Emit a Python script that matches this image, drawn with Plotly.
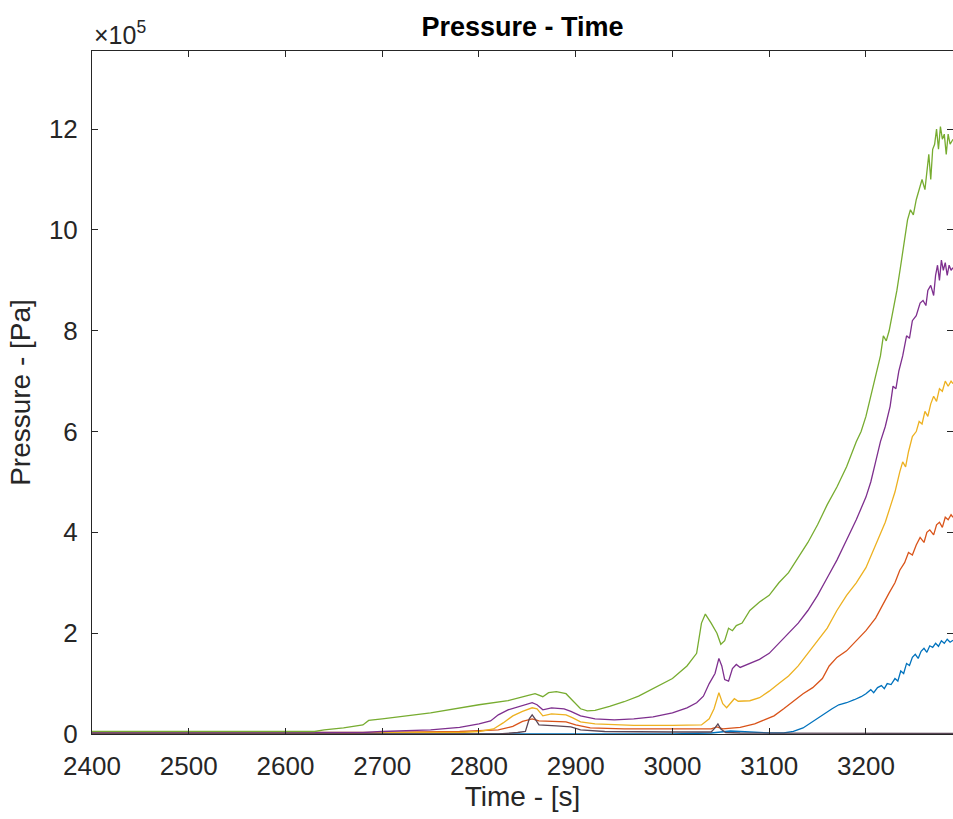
import plotly.graph_objects as go

# ---- data (pressure in units of 1e5 Pa) ----
blue_t = [2400, 2700, 3000, 3040, 3060, 3080, 3100, 3115, 3125, 3135, 3145, 3155, 3165, 3172, 3180, 3188, 3195,
          3200, 3205, 3208, 3212, 3216, 3219, 3222, 3226, 3230, 3233, 3236, 3239, 3242, 3245, 3248, 3251, 3254,
          3257, 3260, 3263, 3266, 3269, 3272, 3275, 3278, 3281, 3284, 3287, 3290]
blue_p = [0.0, 0.0, 0.0, 0.02, 0.06, 0.04, 0.02, 0.02, 0.05, 0.12, 0.25, 0.38, 0.5, 0.58, 0.62, 0.68, 0.74,
          0.8, 0.88, 0.82, 0.92, 0.96, 0.9, 1.0, 0.98, 1.1, 1.05, 1.25, 1.2, 1.4, 1.36, 1.52, 1.58, 1.5,
          1.64, 1.7, 1.62, 1.75, 1.72, 1.8, 1.74, 1.85, 1.8, 1.88, 1.82, 1.86]

orange_t = [2400, 2650, 2700, 2780, 2820, 2835, 2845, 2855, 2862, 2890, 2900, 2915, 2950, 3000, 3040, 3046, 3052,
            3070, 3085, 3095, 3105, 3115, 3125, 3135, 3145, 3155, 3162, 3170, 3180, 3190, 3200, 3210, 3218, 3224,
            3230, 3235, 3240, 3244, 3248, 3252, 3256, 3260, 3263, 3266, 3270, 3273, 3276, 3279, 3282, 3285, 3288, 3290]
orange_p = [0.0, 0.0, 0.03, 0.05, 0.08, 0.15, 0.25, 0.3, 0.26, 0.24, 0.18, 0.12, 0.1, 0.1, 0.1, 0.14, 0.1,
            0.13, 0.2, 0.28, 0.36, 0.5, 0.65, 0.8, 0.92, 1.1, 1.35, 1.52, 1.65, 1.85, 2.05, 2.3, 2.6, 2.8,
            3.0, 3.25, 3.4, 3.6, 3.55, 3.75, 3.9, 3.8, 4.0, 4.05, 3.95, 4.15, 4.2, 4.1, 4.3, 4.25, 4.35, 4.3]

yellow_t = [2400, 2780, 2800, 2815, 2825, 2835, 2845, 2855, 2860, 2866, 2875, 2890, 2897, 2905, 2920, 2960, 3000,
            3030, 3038, 3043, 3048, 3052, 3056, 3060, 3064, 3068, 3080, 3090, 3100, 3110, 3120, 3130, 3140, 3150,
            3160, 3170, 3180, 3190, 3200, 3210, 3220, 3225, 3230, 3235, 3238, 3241, 3244, 3248, 3252, 3255, 3258,
            3261, 3264, 3267, 3270, 3273, 3276, 3279, 3282, 3285, 3288, 3290]
yellow_p = [0.03, 0.03, 0.05, 0.1, 0.22, 0.36, 0.45, 0.52, 0.5, 0.36, 0.4, 0.38, 0.32, 0.24, 0.2, 0.17, 0.17,
            0.18, 0.3, 0.5, 0.82, 0.6, 0.52, 0.62, 0.7, 0.65, 0.66, 0.72, 0.85, 1.0, 1.15, 1.35, 1.6, 1.85,
            2.1, 2.45, 2.75, 3.0, 3.3, 3.75, 4.2, 4.5, 4.8, 5.2, 5.4, 5.3, 5.6, 5.9, 6.0, 6.2, 6.15,
            6.4, 6.3, 6.55, 6.7, 6.6, 6.85, 6.8, 7.0, 6.9, 7.0, 6.95]

purple_t = [2400, 2680, 2700, 2750, 2780, 2800, 2812, 2820, 2830, 2845, 2855, 2860, 2866, 2875, 2888, 2895, 2905,
            2920, 2940, 2960, 2980, 3000, 3015, 3025, 3032, 3038, 3044, 3048, 3051, 3054, 3058, 3062, 3066, 3070,
            3080, 3090, 3100, 3110, 3120, 3130, 3140, 3150, 3160, 3170, 3180, 3190, 3200, 3205, 3210, 3215, 3220,
            3225, 3228, 3231, 3234, 3238, 3242, 3245, 3248, 3252, 3256, 3259, 3262, 3264, 3267, 3270, 3272, 3274,
            3276, 3278, 3280, 3282, 3284, 3286, 3288, 3290]
purple_p = [0.03, 0.03, 0.05, 0.08, 0.13, 0.2, 0.26, 0.38, 0.48, 0.56, 0.62, 0.58, 0.48, 0.52, 0.5, 0.45, 0.36,
            0.3, 0.28, 0.3, 0.34, 0.42, 0.52, 0.62, 0.75, 1.0, 1.2, 1.5, 1.35, 1.08, 1.05, 1.3, 1.38, 1.32,
            1.4, 1.48, 1.6, 1.8, 2.0, 2.2, 2.45, 2.75, 3.1, 3.45, 3.85, 4.25, 4.7, 5.0, 5.4, 5.8, 6.1,
            6.5, 6.9, 6.85, 7.2, 7.5, 7.9, 7.85, 8.2, 8.3, 8.55, 8.6, 8.5, 8.8, 8.9, 8.7, 9.1, 9.3,
            9.0, 9.4, 9.2, 9.35, 9.1, 9.3, 9.2, 9.25]

green_t = [2400, 2630, 2640, 2660, 2680, 2686, 2700, 2750, 2800, 2830, 2850, 2858, 2866, 2872, 2880, 2890, 2896,
           2905, 2912, 2920, 2935, 2950, 2965, 2980, 3000, 3015, 3025, 3030, 3034, 3040, 3046, 3050, 3054, 3058,
           3062, 3066, 3072, 3080, 3090, 3100, 3110, 3120, 3130, 3140, 3150, 3160, 3170, 3180, 3190, 3195, 3200,
           3205, 3210, 3215, 3218, 3221, 3224, 3228, 3232, 3236, 3240, 3243, 3246, 3249, 3252, 3255, 3258, 3261,
           3263, 3265, 3267, 3269, 3271, 3273, 3275, 3277, 3279, 3281, 3283, 3285, 3287, 3290]
green_p = [0.05, 0.05, 0.08, 0.12, 0.18, 0.27, 0.3, 0.42, 0.58, 0.66, 0.76, 0.8, 0.74, 0.82, 0.84, 0.8, 0.68,
           0.5, 0.46, 0.47, 0.55, 0.64, 0.75, 0.9, 1.1, 1.35, 1.6, 2.2, 2.38, 2.2, 2.0, 1.78, 1.85, 2.1,
           2.05, 2.15, 2.2, 2.45, 2.62, 2.75, 3.0, 3.2, 3.5, 3.8, 4.15, 4.55, 4.9, 5.3, 5.8, 6.0, 6.3,
           6.7, 7.1, 7.5, 7.9, 7.8, 8.0, 8.4, 8.8, 9.3, 9.8, 10.2, 10.4, 10.3, 10.6, 10.8, 11.0, 10.8,
           11.2, 11.5, 11.0, 11.6, 11.7, 12.0, 11.6, 12.05, 11.8, 11.9, 11.5, 11.9, 11.7, 11.8]

dark_t = [2400, 2820, 2840, 2848, 2852, 2855, 2858, 2862, 2880, 2895, 2905, 2930, 3000, 3040, 3044, 3047, 3050,
          3055, 3070, 3290]
dark_p = [0.0, 0.0, 0.03, 0.05, 0.3, 0.38, 0.3, 0.18, 0.16, 0.14, 0.08, 0.05, 0.04, 0.04, 0.12, 0.2, 0.1,
          0.03, 0.02, 0.01]

series = [
    (blue_t, blue_p, "#0072BD"),
    (orange_t, orange_p, "#D95319"),
    (yellow_t, yellow_p, "#EDB120"),
    (purple_t, purple_p, "#7E2F8E"),
    (green_t, green_p, "#77AC30"),
    (dark_t, dark_p, "#5a4656"),
]

x_ticks = [2400, 2500, 2600, 2700, 2800, 2900, 3000, 3100, 3200]
y_ticks = [0, 2, 4, 6, 8, 10, 12]

fig = go.Figure()
for t, p, c in series:
    fig.add_trace(go.Scatter(x=t, y=p, mode="lines", line=dict(color=c, width=1.3), showlegend=False))

axis_col = "#262626"
fig.update_layout(
    width=953, height=819,
    margin=dict(l=92, r=0, t=51, b=85),
    paper_bgcolor="white", plot_bgcolor="white",
    font=dict(family="Liberation Sans, Arial, sans-serif", color=axis_col, size=26),
    title=dict(text="<b>Pressure - Time</b>", x=(92 + 953) / 2 / 953, xanchor="center",
               y=1 - 27 / 819, yanchor="middle", font=dict(size=27, color="#000000")),
)
fig.update_xaxes(
    range=[2400, 3290], tickvals=x_ticks, showgrid=False, zeroline=False,
    showline=True, linecolor=axis_col, linewidth=1, mirror="ticks",
    ticks="inside", ticklen=6, tickcolor=axis_col, ticklabelstandoff=9,
    tickfont=dict(size=26, color=axis_col),
    title=dict(text="Time - [s]", font=dict(size=28, color=axis_col), standoff=6),
)
fig.update_yaxes(
    range=[0, 13.55], tickvals=y_ticks, showgrid=False, zeroline=False,
    showline=True, linecolor=axis_col, linewidth=1, mirror="ticks",
    ticks="inside", ticklen=6, tickcolor=axis_col, ticklabelstandoff=8,
    tickfont=dict(size=26, color=axis_col),
    title=dict(text="Pressure - [Pa]", font=dict(size=28, color=axis_col), standoff=10),
)
fig.add_annotation(text="×10<sup>5</sup>", xref="paper", yref="paper", x=0, y=1,
                   xanchor="left", yanchor="bottom", showarrow=False, yshift=0,
                   font=dict(size=25, color=axis_col))

fig.write_html("out.html")
